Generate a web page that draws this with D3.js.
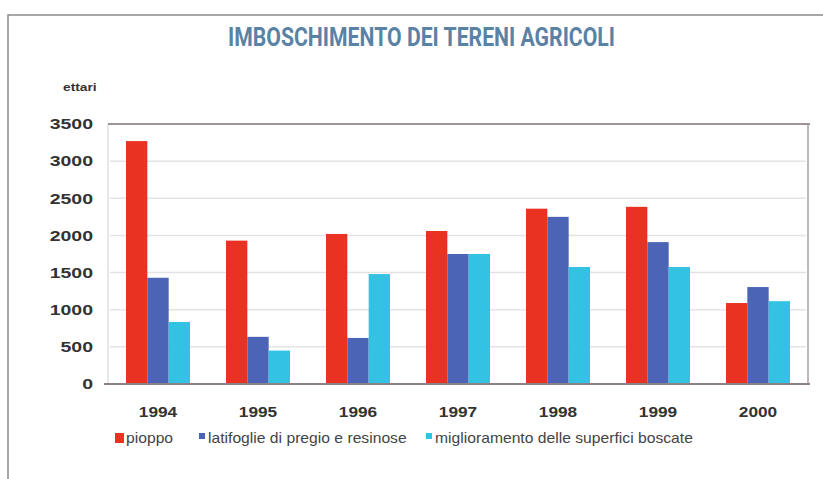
<!DOCTYPE html>
<html>
<head>
<meta charset="utf-8">
<script src="https://cdn.jsdelivr.net/npm/d3@7"></script>
<style>
  body { margin: 0; background: #fff; }
  svg { display: block; font-family: "Liberation Sans", Arial, sans-serif; }
</style>
</head>
<body>
<svg id="chart" width="823" height="479"></svg>
<script>
const years = ['1994', '1995', '1996', '1997', '1998', '1999', '2000']
const seriesNames = ['pioppo', 'latifoglie di pregio e resinose', 'miglioramento delle superfici boscate']
const pioppo = [3270, 1930, 2020, 2060, 2360, 2385, 1090]
const latifoglie = [1430, 635, 620, 1750, 2250, 1910, 1305]
const miglioramento = [835, 450, 1480, 1750, 1575, 1575, 1115]
const yTicks = [0, 500, 1000, 1500, 2000, 2500, 3000, 3500]
const colors = ['#ea3222', '#4b64b6', '#33c2e2']

const values = [pioppo, latifoglie, miglioramento]
const svg = d3.select('#chart')

// frame
svg.append('path')
  .attr('d', 'M8,479V15H823')
  .attr('fill', 'none')
  .attr('stroke', '#8a8a8a')
  .attr('stroke-width', 1.5)

// title
svg.append('text')
  .attr('x', 228).attr('y', 46)
  .attr('textLength', 387).attr('lengthAdjust', 'spacingAndGlyphs')
  .style('font-family', '"Liberation Sans Narrow", "Roboto", sans-serif')
  .style('font-weight', 'bold')
  .style('font-size', '25px')
  .style('fill', '#5a82a5')
  .text('IMBOSCHIMENTO DEI TERENI AGRICOLI')

const x = d3.scaleBand().domain(years).range([108, 808]).paddingInner(0.36).paddingOuter(0.18)
const xs = d3.scaleBand().domain(d3.range(3)).range([0, x.bandwidth()])
const y = d3.scaleLinear().domain([0, 3500]).range([384, 124])

// grid
svg.append('g').selectAll('line')
  .data(yTicks.slice(1, -1))
  .join('line')
  .attr('x1', 110).attr('x2', 806)
  .attr('y1', d => y(d)).attr('y2', d => y(d))
  .attr('stroke', '#e4e4e4').attr('stroke-width', 1.5)

// plot box
svg.append('line').attr('x1', 108).attr('x2', 108).attr('y1', y(3500)).attr('y2', y(0))
  .attr('stroke', '#d0d0d0').attr('stroke-width', 1)
svg.append('line').attr('x1', 808).attr('x2', 808).attr('y1', y(3500)).attr('y2', y(0))
  .attr('stroke', '#a8a0a0').attr('stroke-width', 1.5)
svg.append('line').attr('x1', 108).attr('x2', 810).attr('y1', y(3500)).attr('y2', y(3500))
  .attr('stroke', '#9c9494').attr('stroke-width', 2)

// bars
svg.append('g').selectAll('g')
  .data(values)
  .join('g')
  .attr('fill', (d, i) => colors[i])
  .each(function (vals, si) {
    d3.select(this).selectAll('rect')
      .data(vals)
      .join('rect')
      .attr('x', (d, i) => x(years[i]) + xs(si))
      .attr('width', xs.bandwidth())
      .attr('y', d => y(d))
      .attr('height', d => y(0) - y(d))
  })

// baseline
svg.append('line').attr('x1', 104).attr('x2', 810).attr('y1', y(0)).attr('y2', y(0))
  .attr('stroke', '#8c8484').attr('stroke-width', 2)

// y axis labels
const yAxis = svg.append('g')
  .attr('transform', 'translate(108,0)')
  .call(d3.axisLeft(y).tickValues(yTicks).tickSize(0).tickFormat(d3.format('d')))
yAxis.select('.domain').remove()
yAxis.selectAll('text')
  .attr('x', 0)
  .attr('transform', 'translate(-15,0) scale(1.3,1)')
  .style('font-size', '15px')
  .style('font-weight', 'bold')
  .style('fill', '#333')
  .style('font-family', '"Liberation Sans", Arial, sans-serif')

svg.append('text')
  .attr('transform', 'translate(63,91) scale(1.25,1)')
  .style('font-size', '11px').style('font-weight', 'bold').style('fill', '#333')
  .text('ettari')

// x axis labels
const xAxis = svg.append('g')
  .attr('transform', `translate(0,${y(0)})`)
  .call(d3.axisBottom(x).tickSize(0).tickPadding(0))
xAxis.select('.domain').remove()
xAxis.selectAll('text')
  .attr('y', 0).attr('dy', 0)
  .attr('transform', 'translate(0,33) scale(1.15,1)')
  .style('font-size', '15px')
  .style('font-weight', 'bold')
  .style('fill', '#333')
  .style('font-family', '"Liberation Sans", Arial, sans-serif')

// legend
const legendX = [115, 199, 426]
const legend = svg.append('g').selectAll('g')
  .data(seriesNames)
  .join('g')
  .attr('transform', (d, i) => `translate(${legendX[i]},438)`)
legend.append('rect')
  .attr('x', 0).attr('y', -5)
  .attr('width', (d, i) => i === 0 ? 9 : 6).attr('height', (d, i) => i === 0 ? 10 : 6)
  .attr('fill', (d, i) => colors[i])
legend.append('text')
  .attr('transform', (d, i) => `translate(${i === 0 ? 11 : 9},0) scale(1.12,1)`)
  .attr('dy', '0.35em')
  .style('font-size', '14px').style('fill', '#444')
  .text(d => d)
</script>
</body>
</html>
